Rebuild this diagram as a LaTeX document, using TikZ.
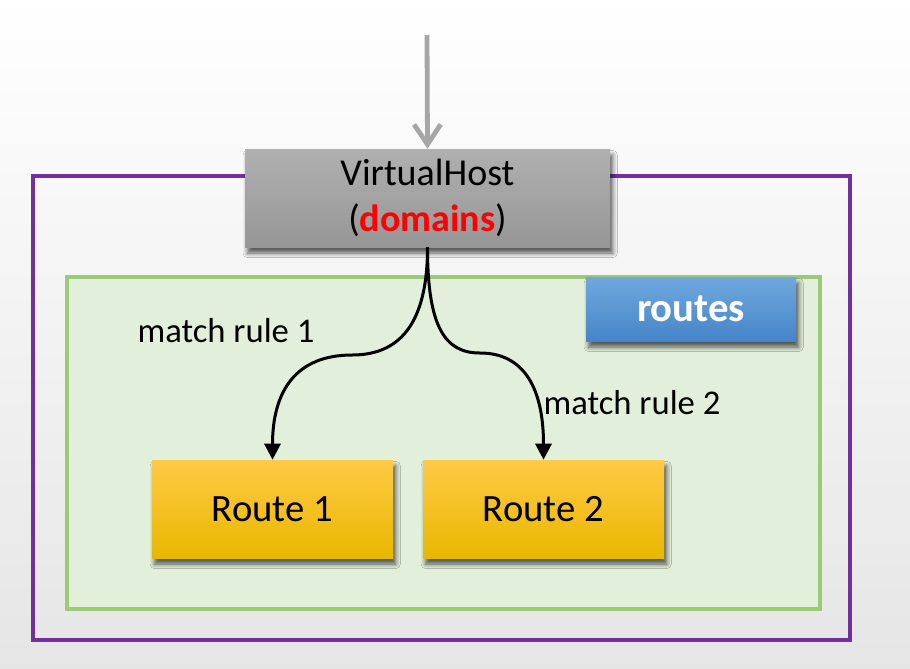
\documentclass[tikz,border=0pt]{standalone}
\usepackage{fontspec}
\setmainfont{Carlito}
\usetikzlibrary{arrows.meta,shadows.blur}
\definecolor{frameviolet}{HTML}{7030A0}
\definecolor{greenfill}{HTML}{E2EFDA}
\definecolor{greenline}{HTML}{9CCB78}
\definecolor{arrowgray}{HTML}{A6A6A6}
\begin{document}
\begin{tikzpicture}[x=0.75pt,y=-0.75pt,
  boxshadow/.style={blur shadow={shadow xshift=2pt,shadow yshift=-4.5pt,shadow blur radius=3.5pt,shadow opacity=65}},
  vhbox/.style={boxshadow,top color=black!31,bottom color=black!41,draw=none,minimum width=273.75pt,minimum height=73.5pt,inner sep=0pt,align=center,font=\fontsize{28.5}{35}\selectfont},
  routebox/.style={boxshadow,draw=none,minimum width=180.75pt,minimum height=73.5pt,inner sep=0pt,font=\fontsize{29}{32}\selectfont,
    top color={rgb,255:red,255;green,202;blue,69},middle color={rgb,255:red,255;green,200;blue,0},bottom color={rgb,255:red,233;green,183;blue,0}},
  tagbox/.style={boxshadow,draw=none,minimum width=157.5pt,minimum height=48pt,inner sep=0pt,text=white,font=\fontsize{30.5}{32}\selectfont\bfseries,
    top color={rgb,255:red,112;green,168;blue,222},bottom color={rgb,255:red,69;green,133;blue,200}},
  rulelabel/.style={font=\fontsize{26}{28}\selectfont},
  flow/.style={line width=2.25pt,-{Triangle[length=12pt,width=12pt]}}
]
\useasboundingbox (0,0) rectangle (910,668);
\shade[top color=white,bottom color=black!10] (0,0) rectangle (910,668);
% outer frame
\draw[frameviolet,line width=2.4pt] (33,176) rectangle (850,640);
% routes area
\draw[greenline,fill=greenfill,line width=2.4pt] (67,277) rectangle (820,609);
% incoming arrow
\coordinate (in) at (427,35);
\node[vhbox] (vh) at (427.5,198) {VirtualHost\\(\textcolor{red}{\bfseries domains})};
\draw[arrowgray,line width=3.6pt,-{Straight Barb[length=15pt,width=20pt,line width=3.6pt]}] (in) -- (vh.north);
\node[tagbox] (routes) at (691,309) {routes};
\node[routebox] (r1) at (272.5,509) {Route 1};
\node[routebox] (r2) at (543.5,509) {Route 2};
\node[rulelabel] (l1) at (226,331) {match rule 1};
\node[rulelabel] (l2) at (632,403) {match rule 2};
\draw[flow] (vh.south) .. controls +(0,80) and +(45,0) .. (352,355) .. controls +(-55,0) and +(0,-70) .. (r1.north);
\draw[flow] (vh.south) .. controls +(0,80) and +(-35,0) .. (480,353) .. controls +(45,0) and +(0,-70) .. (r2.north);
\end{tikzpicture}
\end{document}
